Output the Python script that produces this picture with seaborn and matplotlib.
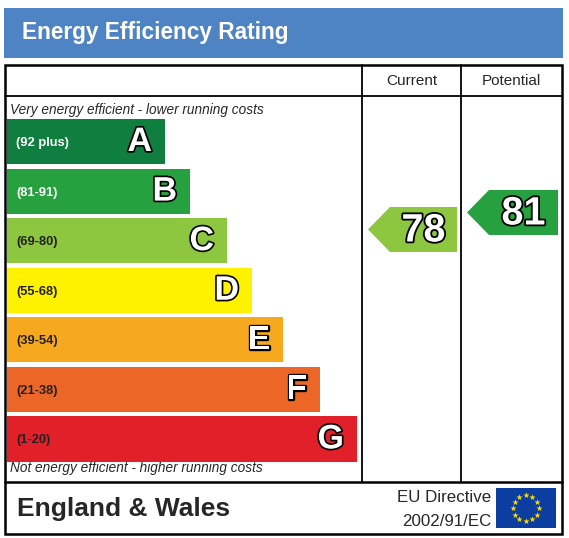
import matplotlib
matplotlib.use("Agg")
import matplotlib.pyplot as plt
import matplotlib.patheffects as pe
from matplotlib.patches import Polygon, Rectangle
import numpy as np
import pandas as pd
import seaborn as sns

# bands of the rating scale
letters = ['A', 'B', 'C', 'D', 'E', 'F', 'G']
ranges = ['(92 plus)', '(81-91)', '(69-80)', '(55-68)', '(39-54)', '(21-38)', '(1-20)']
band_low = [92, 81, 69, 55, 39, 21, 1]
bar_len = [158, 183, 220, 245, 276, 313, 350]
colors = ['#0f7e3e', '#27a03f', '#8dc63f', '#fff200', '#f6a81e', '#ec6727', '#e2202a']
range_text_color = ['white', 'white', '#231f20', '#231f20', '#231f20', '#231f20', '#231f20']

# ratings
current = 78
potential = 81

sns.set_style('white')
plt.rcParams['font.family'] = ['Liberation Sans', 'DejaVu Sans']

W, H = 569, 538
fig = plt.figure(figsize=(W / 100, H / 100), dpi=100)
ax = fig.add_axes([0, 0, 1, 1])
ax.set_xlim(0, W)
ax.set_ylim(H, 0)
ax.axis('off')

# title band
ax.add_patch(Rectangle((4, 8), 559, 50, color='#4f84c4', lw=0))
ax.text(22, 32, 'Energy Efficiency Rating', color='white', fontsize=16.3,
        fontweight='bold', va='center', ha='left')

# table frame
lw = 1.8
ax.add_patch(Rectangle((5, 65), 557, 469, fill=False, ec='black', lw=lw))
ax.plot([5, 562], [96, 96], color='black', lw=1.3)
ax.plot([5, 562], [482, 482], color='black', lw=lw)
ax.plot([362, 362], [65, 482], color='black', lw=1.3)
ax.plot([461, 461], [65, 482], color='black', lw=1.3)
ax.text(412, 81, 'Current', fontsize=11, ha='center', va='center')
ax.text(511, 81, 'Potential', fontsize=11, ha='center', va='center')
ax.text(10, 110, 'Very energy efficient - lower running costs', fontsize=9.8,
        style='italic', ha='left', va='center')
ax.text(10, 468, 'Not energy efficient - higher running costs', fontsize=9.8,
        style='italic', ha='left', va='center')

# footer
ax.text(17, 509, 'England & Wales', fontsize=19, fontweight='bold', ha='left', va='center')
ax.text(491, 497, 'EU Directive', fontsize=12.2, ha='right', va='center')
ax.text(491, 521, '2002/91/EC', fontsize=12.2, ha='right', va='center')
ax.add_patch(Rectangle((496, 488), 60, 40, color='#0b3ea0', lw=0))
ang = np.linspace(0, 2 * np.pi, 13)[:-1]
ax.scatter(526 + 13 * np.cos(ang), 508 + 13 * np.sin(ang), marker='*', s=22,
           color='#ffdd00', lw=0, zorder=5)

# bars
bax = fig.add_axes([7 / W, 1 - 461.5 / H, 350 / W, 342.5 / H])
df = pd.DataFrame({'letter': letters, 'len': bar_len})
sns.barplot(data=df, x='len', y='letter', hue='letter', palette=colors,
            legend=False, width=0.91, linewidth=0, saturation=1, ax=bax, orient='h')
bax.set_xlim(0, 350)
bax.set_ylim(6.455, -0.455)
bax.axis('off')
outline = [pe.withStroke(linewidth=2.4, foreground='black')]
for i, (L, r, n) in enumerate(zip(letters, ranges, bar_len)):
    bax.text(9, i + 0.03, r, fontsize=9.3, fontweight='bold', color=range_text_color[i],
             ha='left', va='center')
    bax.text(n - 13, i + 0.02, L, fontsize=24.5, fontweight='bold', color='white',
             ha='right', va='center', path_effects=outline)


def band_of(v):
    for i, lo in enumerate(band_low):
        if v >= lo:
            return i
    return len(band_low) - 1


def rating_y(v):
    return 671.5 - 5.667 * v


def arrow(v, col_left, col_right):
    yc = rating_y(v)
    tip = col_left + 6
    body = tip + 22
    right = col_right - 4
    pts = [(tip, yc), (body, yc - 22.5), (right, yc - 22.5), (right, yc + 22.5), (body, yc + 22.5)]
    ax.add_patch(Polygon(pts, closed=True, color=colors[band_of(v)], lw=0))
    ax.text((body + right) / 2, yc + 1, str(v), fontsize=28.5, fontweight='bold', color='white',
            ha='center', va='center', path_effects=[pe.withStroke(linewidth=2.6, foreground='black')])


arrow(current, 362, 461)
arrow(potential, 461, 562)

fig.savefig('out.png', dpi=100)
